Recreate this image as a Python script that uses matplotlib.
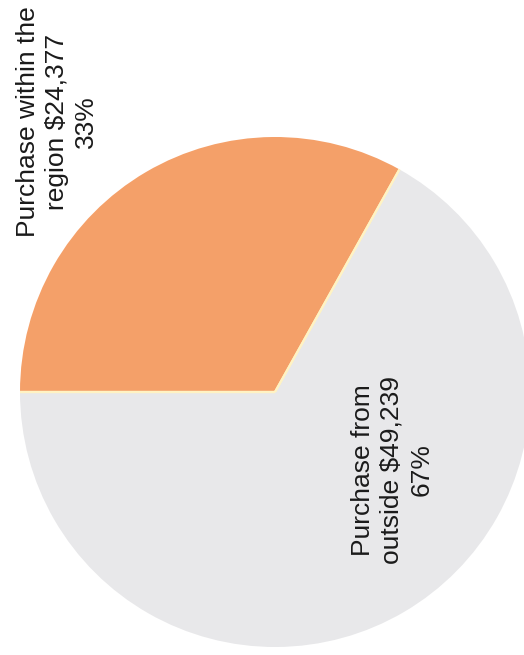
import numpy as np
import matplotlib.pyplot as plt
import matplotlib as mpl

mpl.rcParams['font.family'] = 'sans-serif'
mpl.rcParams['font.sans-serif'] = ['Liberation Sans', 'DejaVu Sans']

# purchase split
categories = ['Purchase within the\nregion', 'Purchase from\noutside']
values = [24377, 49239]
colors = ['#F4A069', '#E8E8EA']

total = sum(values)
labels = []
for name, v in zip(categories, values):
    pct = round(v / total * 100)
    labels.append(f'{name} ${v:,}\n{pct}%')

fig = plt.figure(figsize=(5.24, 6.55), dpi=100, facecolor='white')
ax = fig.add_axes([0, 0, 1, 1])

wedges, _ = ax.pie(values, colors=colors, startangle=180, counterclock=False,
                   center=(275, 263), radius=255, frame=True,
                   wedgeprops=dict(edgecolor='none', linewidth=0))

# pale separators only along the straight sides of the slices
for w in wedges:
    cx, cy = w.center
    for ang in (w.theta1, w.theta2):
        t = np.deg2rad(ang)
        ax.plot([cx, cx + w.r * np.cos(t)], [cy, cy + w.r * np.sin(t)],
                color='#FFF3C4', lw=1.6, solid_capstyle='butt', zorder=3)

ax.set_xlim(0, 524)
ax.set_ylim(0, 655)
ax.set_aspect('equal')
ax.axis('off')

# labels are turned sideways, reading bottom to top
ax.text(57, 533, labels[0], rotation=90, ha='center', va='center',
        multialignment='center', fontsize=19, color='#1a1a1a', linespacing=1.28)
ax.text(392, 185, labels[1], rotation=90, ha='center', va='center',
        multialignment='center', fontsize=19, color='#1a1a1a', linespacing=1.28)

fig.savefig('out.png', dpi=100, facecolor='white')
